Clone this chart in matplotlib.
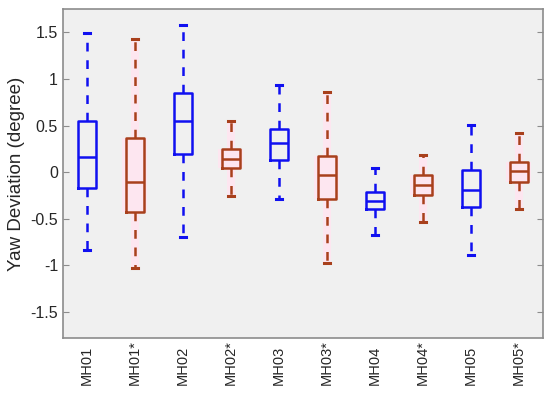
import matplotlib
matplotlib.use("Agg")
import matplotlib.pyplot as plt
import matplotlib.ticker as ticker
import matplotlib.transforms as mtransforms

# ── data (degrees) ───────────────────────────────────────────────────────────
labels = ["MH01", "MH01*", "MH02", "MH02*", "MH03",
          "MH03*", "MH04", "MH04*", "MH05", "MH05*"]
whislo = [-0.84, -1.03, -0.70, -0.26, -0.29, -0.98, -0.67, -0.53, -0.89, -0.40]
q1     = [-0.17, -0.43,  0.19,  0.04,  0.13, -0.29, -0.39, -0.25, -0.37, -0.11]
med    = [ 0.16, -0.11,  0.55,  0.14,  0.31, -0.03, -0.31, -0.14, -0.19,  0.01]
q3     = [ 0.55,  0.37,  0.85,  0.25,  0.46,  0.17, -0.21, -0.03,  0.02,  0.11]
whishi = [ 1.49,  1.43,  1.58,  0.55,  0.93,  0.86,  0.04,  0.18,  0.51,  0.42]

BLUE = "#1010f0"
RED = "#a8401c"
PINK = "#fde6f0"
BG = "#f0f0f0"
EDGE = "#8c8c8c"
TEXT = "#262626"

plt.rcParams["font.family"] = ["Liberation Sans", "DejaVu Sans"]

fig = plt.figure(figsize=(5.5, 3.94), dpi=100)
ax = fig.add_axes([0.1145, 0.142, 0.8725, 0.835])
ax.set_facecolor(BG)

positions = list(range(1, len(labels) + 1))
colors = [BLUE if i % 2 == 0 else RED for i in range(len(labels))]

# faint pink halo behind the starred (red) boxes, as in the source image
for p, lo, a, b, hi, c in zip(positions, whislo, q1, q3, whishi, colors):
    if c == RED:
        ax.bar(p, hi - lo, bottom=lo, width=0.18, color=PINK, zorder=1, lw=0)
        ax.bar(p, b - a, bottom=a, width=0.52, color=PINK, zorder=1, lw=0)

for p, lo, a, m, b, hi, c in zip(positions, whislo, q1, med, q3, whishi, colors):
    stats = [dict(whislo=lo, q1=a, med=m, q3=b, whishi=hi, fliers=[])]
    ax.bxp(stats, positions=[p], widths=0.38, showfliers=False,
           boxprops=dict(color=c, linewidth=1.8),
           medianprops=dict(color=c, linewidth=1.8),
           whiskerprops=dict(color=c, linewidth=1.8, linestyle=(0, (3.5, 3.5))),
           capprops=dict(color=c, linewidth=2.2),
           capwidths=0.12, zorder=3)

ax.set_xlim(0.5, 10.5)
ax.set_ylim(-1.78, 1.75)

# x labels: rotated, all starting at the same baseline below the axes
ax.set_xticks(positions)
ax.set_xticklabels([])
ax.tick_params(axis="x", length=0)
trans = mtransforms.blended_transform_factory(ax.transData, ax.transAxes)
for p, lab in zip(positions, labels):
    ax.text(p, -0.143, lab, transform=trans, rotation=90, ha="center",
            va="bottom", fontsize=10.5, color=TEXT)

ax.set_yticks([-1.5, -1, -0.5, 0, 0.5, 1, 1.5])
ax.yaxis.set_major_formatter(ticker.FuncFormatter(lambda v, _: f"{v:g}"))
ax.tick_params(axis="y", labelsize=11.5, direction="in", right=True,
               color=EDGE, length=4, labelcolor=TEXT)
ax.set_ylabel("Yaw Deviation (degree)", fontsize=13.5, color=TEXT, labelpad=4)

for s in ax.spines.values():
    s.set_color(EDGE)
    s.set_linewidth(1.2)

fig.savefig("out.png", dpi=100)
